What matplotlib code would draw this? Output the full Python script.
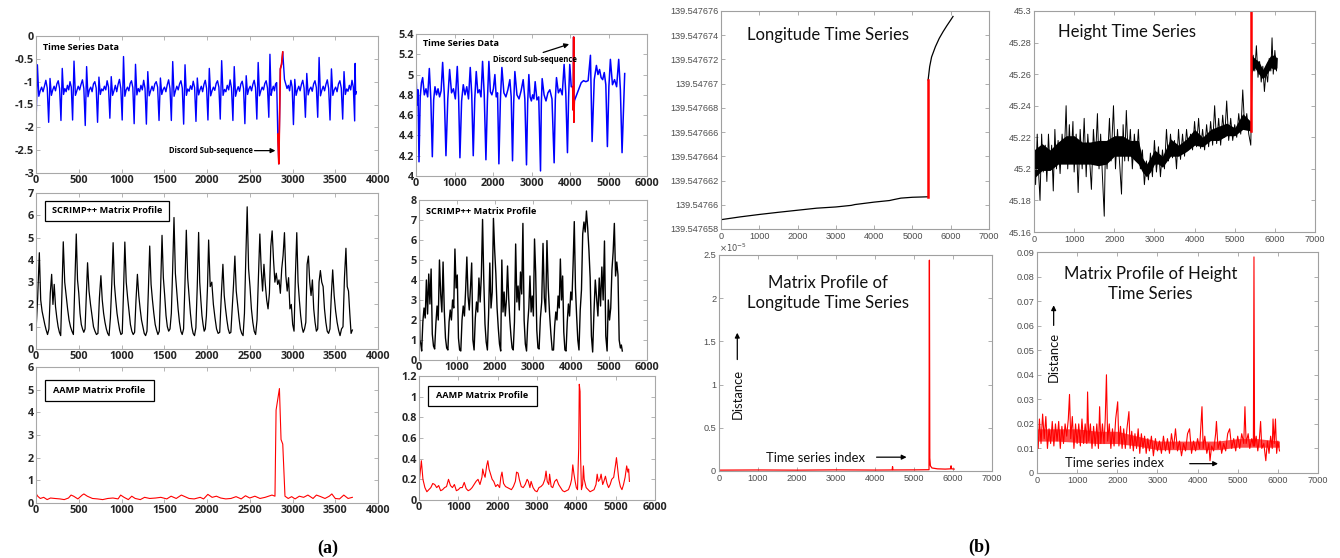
import numpy as np
import matplotlib
matplotlib.use("Agg")
import matplotlib.pyplot as plt
from matplotlib.patches import Rectangle
from matplotlib.ticker import FuncFormatter

plt.rcParams["axes.unicode_minus"] = False

# ----------------- data -----------------
# (a) top-left: ECG, spike points (x, y) + values between each spike and the next
ECG1_SPIKES = [(0, -1.97), (148, -1.89), (292, -1.85), (428, -1.84), (576, -1.96), (720, -1.89),
               (864, -1.80), (1008, -1.84), (1148, -1.92), (1291, -1.93), (1439, -1.85), (1583, -1.85),
               (1727, -1.93), (1871, -1.87), (2011, -1.84), (2155, -1.82), (2303, -1.85), (2443, -1.92),
               (2583, -1.82), (2723, -1.78),
               (2828, -2.15), (2840, -2.80), (2858, -0.72), (2886, -0.35), (2906, -0.95),
               (3011, -1.94), (3151, -1.78), (3295, -1.78), (3439, -1.84), (3587, -1.82), (3727, -1.86)]
ECG1_ROWS = [
    [-0.63, -1.32, -1.20, -1.12, -1.22, -1.10, -0.97, -1.14],
    [-0.93, -1.30, -1.18, -1.10, -1.20, -1.05, -0.98, -1.15],
    [-0.71, -1.28, -1.15, -1.22, -1.08, -1.18, -1.00, -1.12],
    [-0.55, -1.30, -1.20, -1.10, -1.18, -1.06, -0.96, -1.15],
    [-0.67, -1.33, -1.18, -1.12, -1.22, -1.05, -1.00, -1.14],
    [-0.90, -1.28, -1.16, -1.20, -1.10, -1.18, -0.98, -1.12],
    [-0.89, -1.30, -1.20, -1.08, -1.22, -1.06, -0.95, -1.15],
    [-0.45, -1.32, -1.18, -1.12, -1.20, -1.04, -0.98, -1.13],
    [-0.62, -1.29, -1.15, -1.22, -1.08, -1.18, -0.97, -1.15],
    [-0.78, -1.31, -1.20, -1.10, -1.20, -1.05, -1.00, -1.12],
    [-0.92, -1.28, -1.17, -1.12, -1.22, -1.07, -0.96, -1.15],
    [-0.56, -1.32, -1.20, -1.10, -1.18, -1.05, -0.98, -1.14],
    [-0.63, -1.30, -1.16, -1.21, -1.09, -1.17, -0.99, -1.13],
    [-0.92, -1.29, -1.18, -1.10, -1.22, -1.06, -0.97, -1.15],
    [-0.71, -1.31, -1.20, -1.12, -1.19, -1.04, -0.98, -1.12],
    [-0.54, -1.30, -1.17, -1.22, -1.08, -1.18, -0.96, -1.14],
    [-0.67, -1.32, -1.19, -1.11, -1.21, -1.05, -0.99, -1.15],
    [-0.87, -1.28, -1.16, -1.10, -1.20, -1.06, -0.97, -1.13],
    [-0.58, -1.31, -1.20, -1.12, -1.18, -1.04, -0.98, -1.14],
    [-0.40, -1.30, -1.18, -1.10, -1.20, -1.05, -1.02],
    [], [], [-0.62], [],
    [-1.05, -1.15, -1.08, -1.20, -0.97, -1.12],
    [-0.95, -1.30, -1.18, -1.10, -1.20, -1.06, -0.97, -1.14],
    [-0.82, -1.29, -1.17, -1.12, -1.21, -1.05, -0.98, -1.13],
    [-0.47, -1.31, -1.19, -1.10, -1.20, -1.06, -0.96, -1.15],
    [-0.72, -1.30, -1.18, -1.12, -1.22, -1.05, -0.98, -1.14],
    [-0.78, -1.28, -1.16, -1.21, -1.08, -1.18, -0.97, -1.12],
    [-0.60, -1.28, -1.22],
]
ECG1_END = 3750
ECG1_DISCORD = (2828, 2886)

# (a) top-right: ECG
ECG2_SPIKES = [(0, 5.03), (78, 4.14), (173, 4.97), (346, 5.06), (424, 4.19), (493, 4.88), (692, 5.12),
               (778, 4.20), (873, 5.05), (1072, 5.08), (1141, 4.18), (1228, 4.90), (1409, 5.07),
               (1487, 4.20), (1565, 5.03), (1729, 5.13), (1816, 4.16), (1893, 5.13), (2049, 5.00),
               (2153, 4.12), (2231, 5.07), (2438, 4.95), (2507, 4.15), (2568, 5.03), (2784, 4.95),
               (2870, 4.11), (2931, 5.00), (3095, 4.93), (3234, 4.05), (3277, 4.96), (3476, 4.85),
               (3588, 4.13), (3649, 4.97), (3847, 5.10), (3934, 4.23), (3994, 5.10),
               (4070, 4.88), (4085, 4.65), (4095, 5.37), (4100, 4.53), (4112, 4.74),
               (4531, 5.19), (4574, 4.34), (4686, 5.09), (4971, 4.29), (5049, 5.15), (5265, 5.15),
               (5352, 4.23), (5421, 5.01)]
ECG2_ROWS = [
    [4.70, 4.85], [4.78, 4.92], [4.80, 4.86, 4.78], [4.76], [4.75], [4.80, 4.86, 4.78, 4.84], [4.80],
    [4.76], [4.82, 4.86, 4.76], [4.78], [4.74], [4.80, 4.88, 4.76], [4.80],
    [4.76], [4.82, 4.85, 4.78], [4.80], [4.74], [4.83, 4.80, 4.86], [4.78, 4.82],
    [4.75], [4.82, 4.78, 4.85], [4.78], [4.72], [4.80, 4.76, 4.84], [4.76],
    [4.72], [4.78, 4.74, 4.80, 4.76], [4.75, 4.78], [4.72], [4.80, 4.74, 4.82], [4.76],
    [4.75], [4.82, 4.86, 4.80], [4.82], [4.78], [4.88],
    [], [], [], [], [4.80, 4.86, 4.92, 4.94, 4.93, 4.94],
    [], [4.95], [5.00, 5.05, 4.97, 4.95, 5.02, 4.90], [4.88], [4.90, 4.95, 4.88], [4.85],
    [], [],
]
ECG2_END = 5421
ECG2_DISCORD = (4070, 4112)

# (a) middle-left: SCRIMP++ profile, peaks + decay values to the next peak
MP1_PEAKS = [(0, 0.80), (39, 4.32), (183, 3.35), (319, 4.81), (471, 5.16), (603, 3.87), (759, 3.29),
             (902, 4.77), (1039, 4.80), (1186, 3.35), (1330, 4.62), (1474, 5.10), (1614, 5.90),
             (1758, 5.33), (1902, 5.23), (2019, 4.89), (2186, 3.80), (2326, 4.17), (2470, 6.38),
             (2618, 5.16), (2762, 5.30), (2906, 5.22), (3050, 5.22), (3186, 4.17), (3326, 3.52),
             (3470, 3.55), (3625, 4.52), (3700, 0.85)]
MP1_ROWS = [
    [2.3],
    [2.2, 1.7, 1.4, 1.1, 0.85, 0.65, 0.9, 2.5],
    [2.0, 2.9, 1.9, 1.4, 1.0, 0.75, 0.6, 2.6],
    [3.0, 2.4, 1.8, 1.3, 1.0, 0.8, 0.65, 2.9],
    [3.1, 2.5, 1.6, 1.1, 0.9, 0.75, 0.9, 2.4],
    [2.6, 2.0, 1.5, 1.0, 0.8, 0.65, 0.7, 2.3],
    [2.2, 1.6, 1.2, 0.9, 0.7, 0.6, 1.4, 2.9],
    [2.9, 2.2, 1.6, 1.2, 0.85, 0.65, 0.7, 2.6],
    [3.0, 2.3, 1.7, 1.1, 0.8, 0.65, 0.75, 2.2],
    [2.4, 1.8, 1.3, 1.0, 0.7, 0.6, 0.8, 2.6],
    [2.9, 2.2, 1.6, 1.1, 0.85, 0.65, 0.8, 2.8],
    [3.2, 2.4, 1.5, 1.0, 0.8, 0.9, 1.6, 3.6],
    [3.4, 2.6, 1.8, 1.2, 0.8, 0.65, 0.9, 2.9],
    [3.2, 2.4, 1.6, 1.0, 0.7, 0.6, 0.95, 2.8],
    [3.0, 2.2, 1.5, 1.1, 0.8, 0.9, 1.5, 2.8],
    [2.8, 3.0, 2.0, 1.4, 0.9, 0.7, 0.75, 2.4],
    [2.4, 1.8, 1.3, 0.9, 0.7, 0.75, 1.8, 2.9],
    [2.6, 2.0, 1.4, 0.9, 0.7, 0.6, 1.6, 4.1],
    [3.6, 2.8, 1.8, 1.2, 0.8, 0.65, 1.3, 3.3],
    [3.6, 2.6, 3.8, 2.9, 2.2, 1.8, 2.5, 4.6],
    [4.0, 3.0, 3.4, 2.9, 3.1, 2.5, 3.6, 4.2],
    [3.3, 2.6, 3.2, 1.8, 2.0, 1.1, 0.8, 3.3],
    [3.0, 2.2, 1.5, 1.0, 0.75, 0.9, 1.2, 3.8],
    [3.0, 2.4, 3.1, 1.8, 1.2, 0.8, 0.9, 3.0],
    [3.0, 2.8, 1.8, 1.2, 0.8, 0.7, 0.9, 2.4],
    [2.4, 1.7, 1.2, 0.85, 0.6, 0.9, 1.0, 3.2],
    [2.8, 2.6, 1.6, 0.7],
    [],
]
MP1_END = 3700

# (a) middle-right: SCRIMP++ profile, minima + values up to the next minimum
MP2_MINS = [(0, 4.45), (70, 0.45), (412, 0.55), (760, 0.50), (1100, 0.45), (1450, 0.50), (1800, 0.50),
            (2150, 0.45), (2480, 0.50), (2830, 0.45), (3160, 0.55), (3540, 0.50), (3870, 0.45),
            (4210, 0.50), (4570, 0.40), (4950, 0.45), (5300, 0.60), (5350, 0.45)]
MP2_ROWS = [
    [1.0, 0.8],
    [1.9, 2.6, 2.1, 4.0, 2.3, 4.3, 2.8, 4.55, 1.3, 0.7],
    [1.8, 2.7, 2.0, 5.0, 3.3, 2.4, 4.9, 2.5, 1.1, 0.6],
    [1.9, 2.5, 2.0, 3.0, 2.6, 5.55, 3.6, 4.25, 1.1, 0.5],
    [2.0, 2.7, 2.2, 3.5, 5.15, 3.2, 2.5, 3.6, 4.85, 1.0],
    [2.1, 2.9, 2.4, 4.1, 2.9, 4.2, 7.03, 4.0, 1.8, 0.9],
    [2.3, 4.85, 2.6, 3.4, 7.08, 5.5, 4.3, 2.6, 1.6, 0.8],
    [5.0, 2.4, 3.4, 2.2, 3.0, 4.7, 3.1, 2.0, 1.2, 0.6],
    [1.9, 5.8, 2.9, 3.7, 2.5, 4.4, 3.3, 6.83, 2.0, 0.8],
    [1.8, 2.6, 4.2, 2.4, 3.2, 2.2, 6.05, 4.4, 1.5, 0.6],
    [2.1, 2.9, 5.83, 3.1, 2.4, 5.97, 3.6, 2.3, 1.3, 0.5],
    [1.7, 2.4, 2.0, 3.2, 2.6, 5.05, 3.0, 4.2, 1.4, 0.5],
    [1.9, 2.8, 2.2, 3.4, 3.0, 4.8, 6.92, 3.6, 2.2, 1.0],
    [2.5, 3.5, 6.3, 6.9, 6.4, 7.45, 6.6, 5.5, 4.1, 1.2],
    [2.4, 4.0, 3.1, 2.2, 4.1, 2.7, 4.65, 3.0, 5.95, 1.2],
    [3.0, 2.0, 2.6, 4.5, 5.4, 6.83, 4.2, 4.9, 4.25, 1.0],
    [0.75],
    [],
]
MP2_END = 5350

# (a) bottom: AAMP profiles
AAMP1 = [(0, 0.42), (20, 0.3), (50, 0.2), (90, 0.25), (130, 0.15), (170, 0.22), (220, 0.2), (280, 0.18),
         (330, 0.15), (380, 0.22), (410, 0.35), (440, 0.3), (490, 0.18), (540, 0.35), (560, 0.4), (600, 0.3),
         (660, 0.2), (720, 0.18), (780, 0.15), (840, 0.2), (900, 0.22), (960, 0.18), (990, 0.35), (1030, 0.25),
         (1080, 0.15), (1120, 0.3), (1160, 0.2), (1220, 0.15), (1270, 0.25), (1330, 0.2), (1400, 0.22),
         (1460, 0.25), (1530, 0.18), (1580, 0.3), (1640, 0.2), (1700, 0.35), (1730, 0.3), (1790, 0.2),
         (1850, 0.18), (1920, 0.25), (1960, 0.18), (2010, 0.38), (2060, 0.25), (2110, 0.3), (2160, 0.22),
         (2220, 0.18), (2280, 0.2), (2340, 0.28), (2400, 0.18), (2450, 0.32), (2500, 0.22), (2560, 0.3),
         (2620, 0.2), (2680, 0.25), (2720, 0.3), (2760, 0.35), (2795, 0.3), (2808, 4.1), (2847, 5.05),
         (2866, 2.8), (2886, 2.6), (2912, 0.3), (2950, 0.2), (2990, 0.28), (3030, 0.18), (3080, 0.3),
         (3130, 0.25), (3180, 0.35), (3240, 0.2), (3280, 0.35), (3330, 0.28), (3380, 0.2), (3430, 0.3),
         (3460, 0.4), (3500, 0.2), (3550, 0.18), (3600, 0.35), (3650, 0.2), (3700, 0.25)]
AAMP2 = [(0, 0.15), (30, 0.27), (60, 0.38), (100, 0.2), (150, 0.12), (200, 0.08), (250, 0.1), (300, 0.12),
         (350, 0.16), (400, 0.15), (450, 0.12), (500, 0.14), (550, 0.09), (600, 0.1), (650, 0.12), (700, 0.13),
         (750, 0.2), (800, 0.14), (850, 0.12), (900, 0.15), (950, 0.09), (1000, 0.1), (1050, 0.12), (1100, 0.12),
         (1150, 0.17), (1200, 0.11), (1250, 0.09), (1300, 0.1), (1350, 0.12), (1400, 0.15), (1450, 0.18),
         (1500, 0.2), (1550, 0.15), (1600, 0.22), (1620, 0.3), (1650, 0.25), (1680, 0.22), (1720, 0.33),
         (1750, 0.38), (1780, 0.3), (1820, 0.25), (1860, 0.2), (1900, 0.18), (1950, 0.13), (2000, 0.15),
         (2050, 0.12), (2080, 0.22), (2110, 0.27), (2150, 0.16), (2200, 0.13), (2250, 0.12), (2300, 0.11),
         (2350, 0.1), (2400, 0.13), (2450, 0.18), (2480, 0.27), (2520, 0.26), (2550, 0.2), (2600, 0.13),
         (2650, 0.12), (2700, 0.15), (2750, 0.2), (2780, 0.18), (2820, 0.12), (2850, 0.18), (2900, 0.12),
         (2950, 0.09), (3000, 0.08), (3050, 0.12), (3100, 0.13), (3150, 0.15), (3200, 0.2), (3230, 0.28),
         (3260, 0.18), (3300, 0.15), (3320, 0.25), (3360, 0.13), (3400, 0.12), (3450, 0.18), (3500, 0.2),
         (3550, 0.15), (3600, 0.12), (3650, 0.09), (3700, 0.08), (3750, 0.09), (3800, 0.1), (3850, 0.15),
         (3880, 0.2), (3910, 0.34), (3940, 0.25), (3970, 0.18), (4000, 0.12), (4030, 0.1), (4060, 0.5),
         (4075, 1.12), (4095, 1.05), (4110, 0.4), (4130, 0.1), (4160, 0.15), (4180, 0.33), (4200, 0.2),
         (4250, 0.12), (4300, 0.1), (4350, 0.08), (4400, 0.09), (4450, 0.1), (4500, 0.15), (4530, 0.25),
         (4560, 0.18), (4600, 0.2), (4630, 0.25), (4670, 0.15), (4700, 0.18), (4740, 0.23), (4780, 0.16),
         (4820, 0.12), (4860, 0.15), (4900, 0.2), (4950, 0.22), (5000, 0.35), (5020, 0.41), (5050, 0.3),
         (5080, 0.2), (5120, 0.13), (5160, 0.1), (5200, 0.15), (5240, 0.22), (5280, 0.33), (5310, 0.27),
         (5330, 0.3), (5350, 0.18)]

# (b) longitude series
LON = [(0, 139.54765877), (500, 139.5476590), (1000, 139.5476592), (1500, 139.54765938),
       (2000, 139.54765955), (2500, 139.54765972), (3000, 139.54765982), (3400, 139.54765995),
       (3500, 139.54766002), (4000, 139.54766022), (4400, 139.54766035), (4500, 139.54766042),
       (4700, 139.54766055), (5000, 139.54766062), (5410, 139.54766066)]
LON_JUMP = [(5410, 139.54766066), (5410, 139.5476703)]
LON_AFTER = [(5410, 139.5476703), (5450, 139.5476714), (5500, 139.5476722), (5600, 139.54767305),
             (5700, 139.54767374), (5800, 139.54767429), (5900, 139.54767479), (6000, 139.54767526),
             (6060, 139.54767555)]
LON_TICKS = [139.547658, 139.54766, 139.547662, 139.547664, 139.547666, 139.547668,
             139.54767, 139.547672, 139.547674, 139.547676]

# (b) height series: dense core (x, low, high) and the spiky trace
HEIGHT_BAND = [(0, 45.194, 45.212), (200, 45.199, 45.216), (400, 45.199, 45.212), (600, 45.203, 45.217),
               (800, 45.203, 45.221), (1000, 45.203, 45.221), (1200, 45.203, 45.217), (1400, 45.203, 45.217),
               (1600, 45.202, 45.218), (1800, 45.203, 45.218), (2000, 45.208, 45.221), (2200, 45.208, 45.221),
               (2400, 45.208, 45.218), (2600, 45.203, 45.218), (2700, 45.198, 45.207), (2800, 45.195, 45.203),
               (2900, 45.198, 45.207), (3000, 45.203, 45.212), (3100, 45.203, 45.21), (3200, 45.201, 45.208),
               (3400, 45.208, 45.219), (3600, 45.208, 45.215), (3800, 45.211, 45.219), (4000, 45.215, 45.225),
               (4200, 45.214, 45.22), (4400, 45.218, 45.225), (4600, 45.218, 45.227), (4800, 45.221, 45.229),
               (5000, 45.221, 45.226), (5200, 45.225, 45.235), (5400, 45.224, 45.23)]
HEIGHT_BAND2 = [(5420, 45.261, 45.272), (5500, 45.264, 45.27), (5600, 45.26, 45.268), (5700, 45.257, 45.263),
                (5800, 45.26, 45.268), (5900, 45.264, 45.272), (6000, 45.263, 45.272), (6050, 45.264, 45.27)]
HEIGHT = [(0, 45.205), (40, 45.19), (80, 45.222), (120, 45.195), (150, 45.18), (190, 45.222), (230, 45.198),
          (280, 45.215), (320, 45.192), (360, 45.222), (400, 45.2), (440, 45.215), (480, 45.186), (520, 45.225),
          (560, 45.2), (600, 45.218), (650, 45.197), (700, 45.222), (750, 45.205), (800, 45.24), (840, 45.2),
          (880, 45.228), (920, 45.205), (970, 45.23), (1000, 45.198), (1050, 45.222), (1100, 45.185),
          (1150, 45.225), (1200, 45.2), (1250, 45.232), (1300, 45.195), (1340, 45.222), (1400, 45.2),
          (1430, 45.187), (1480, 45.225), (1530, 45.205), (1580, 45.235), (1620, 45.2), (1660, 45.222),
          (1700, 45.198), (1750, 45.17), (1780, 45.215), (1820, 45.2), (1880, 45.232), (1920, 45.205),
          (1980, 45.24), (2030, 45.2), (2080, 45.225), (2130, 45.205), (2180, 45.184), (2220, 45.228),
          (2260, 45.205), (2300, 45.237), (2350, 45.205), (2400, 45.225), (2450, 45.2), (2500, 45.222),
          (2550, 45.205), (2600, 45.225), (2650, 45.2), (2700, 45.212), (2750, 45.19), (2800, 45.205),
          (2850, 45.193), (2900, 45.21), (2950, 45.195), (3000, 45.218), (3050, 45.198), (3100, 45.214),
          (3150, 45.195), (3200, 45.212), (3250, 45.2), (3300, 45.225), (3350, 45.205), (3400, 45.222),
          (3450, 45.207), (3500, 45.218), (3550, 45.2), (3600, 45.225), (3650, 45.206), (3700, 45.222),
          (3750, 45.208), (3800, 45.225), (3850, 45.212), (3900, 45.222), (3950, 45.212), (4000, 45.23),
          (4050, 45.214), (4100, 45.232), (4150, 45.213), (4200, 45.225), (4250, 45.212), (4300, 45.228),
          (4350, 45.214), (4400, 45.23), (4450, 45.215), (4500, 45.24), (4550, 45.216), (4600, 45.232),
          (4650, 45.215), (4700, 45.234), (4750, 45.22), (4800, 45.243), (4850, 45.218), (4900, 45.232),
          (4950, 45.218), (5000, 45.228), (5050, 45.22), (5100, 45.235), (5150, 45.222), (5200, 45.25),
          (5250, 45.225), (5300, 45.235), (5350, 45.222), (5400, 45.215), (5430, 45.258), (5460, 45.272),
          (5500, 45.262), (5540, 45.278), (5580, 45.258), (5620, 45.268), (5660, 45.255), (5700, 45.265),
          (5740, 45.249), (5780, 45.262), (5820, 45.255), (5860, 45.27), (5900, 45.262), (5930, 45.283),
          (5960, 45.26), (6000, 45.275), (6040, 45.262), (6060, 45.27)]
HEIGHT_JUMP = [(5415, 45.224), (5415, 45.2995)]

# (b) matrix profiles
MP_LON = [(0, 1.0e-7), (1000, 1.2e-7), (2000, 1.0e-7), (3000, 1.3e-7), (4000, 1.1e-7), (4440, 1.2e-7),
          (4450, 5.0e-7), (4460, 1.2e-7), (5000, 1.3e-7), (5385, 1.5e-7), (5395, 2.44e-5), (5405, 1.5e-6),
          (5420, 6.0e-7), (5460, 3.5e-7), (5600, 2.5e-7), (5800, 2.2e-7), (5940, 2.5e-7), (5950, 6.0e-7),
          (5965, 2.5e-7), (6030, 2.2e-7)]
MP_HEIGHT_BAND = [(0, 0.013, 0.018), (500, 0.013, 0.018), (1000, 0.0125, 0.018), (1500, 0.012, 0.017),
                  (2000, 0.012, 0.017), (2500, 0.011, 0.015), (3000, 0.0095, 0.013), (3500, 0.0095, 0.013),
                  (4000, 0.0095, 0.013), (4500, 0.0095, 0.013), (5000, 0.0105, 0.014), (5500, 0.0105, 0.014),
                  (6040, 0.0105, 0.013)]
MP_HEIGHT = [(0, 0.018), (30, 0.01), (60, 0.022), (100, 0.012), (140, 0.024), (180, 0.014), (220, 0.023),
             (260, 0.01), (300, 0.018), (340, 0.012), (380, 0.021), (420, 0.011), (460, 0.02), (500, 0.013),
             (540, 0.021), (580, 0.01), (620, 0.019), (660, 0.012), (700, 0.02), (740, 0.015), (780, 0.022),
             (810, 0.032), (840, 0.014), (880, 0.023), (920, 0.01), (960, 0.02), (1000, 0.012), (1040, 0.02),
             (1080, 0.011), (1120, 0.022), (1160, 0.012), (1200, 0.02), (1240, 0.012), (1260, 0.033),
             (1290, 0.013), (1330, 0.02), (1370, 0.01), (1410, 0.019), (1450, 0.011), (1490, 0.02),
             (1530, 0.01), (1560, 0.027), (1590, 0.012), (1630, 0.02), (1670, 0.012), (1700, 0.022),
             (1730, 0.04), (1760, 0.013), (1800, 0.02), (1840, 0.01), (1880, 0.018), (1920, 0.011),
             (1960, 0.022), (2010, 0.029), (2040, 0.011), (2080, 0.019), (2120, 0.01), (2160, 0.018),
             (2200, 0.01), (2240, 0.018), (2290, 0.025), (2320, 0.01), (2360, 0.017), (2400, 0.009),
             (2440, 0.016), (2480, 0.01), (2520, 0.018), (2560, 0.008), (2600, 0.016), (2640, 0.01),
             (2680, 0.015), (2720, 0.008), (2760, 0.014), (2800, 0.009), (2850, 0.015), (2900, 0.007),
             (2950, 0.014), (3000, 0.009), (3050, 0.013), (3100, 0.008), (3150, 0.015), (3200, 0.009),
             (3250, 0.014), (3300, 0.008), (3350, 0.016), (3400, 0.01), (3450, 0.018), (3500, 0.009),
             (3550, 0.013), (3600, 0.007), (3650, 0.012), (3700, 0.009), (3750, 0.016), (3800, 0.018),
             (3850, 0.008), (3900, 0.013), (3950, 0.009), (4000, 0.014), (4050, 0.01), (4110, 0.027),
             (4140, 0.01), (4180, 0.015), (4230, 0.008), (4280, 0.012), (4310, 0.005), (4350, 0.011),
             (4400, 0.009), (4450, 0.016), (4470, 0.021), (4510, 0.01), (4560, 0.013), (4600, 0.008),
             (4650, 0.012), (4700, 0.009), (4750, 0.016), (4800, 0.018), (4850, 0.01), (4900, 0.014),
             (4950, 0.009), (5000, 0.015), (5050, 0.01), (5100, 0.016), (5150, 0.012), (5180, 0.027),
             (5210, 0.012), (5260, 0.016), (5300, 0.01), (5350, 0.014), (5390, 0.011), (5405, 0.088),
             (5420, 0.011), (5460, 0.015), (5500, 0.009), (5540, 0.014), (5570, 0.021), (5600, 0.01),
             (5650, 0.012), (5700, 0.005), (5740, 0.013), (5780, 0.008), (5820, 0.015), (5860, 0.01),
             (5880, 0.022), (5910, 0.012), (5940, 0.022), (5970, 0.008), (6000, 0.013), (6040, 0.009)]


# ----------------- helpers -----------------
def spiky(points, rows, x_end):
    # key points as read, the values in between spread over the gap to the next one
    xs, ys = [], []
    for i, (x0, y0) in enumerate(points):
        xs.append(x0)
        ys.append(y0)
        x1 = points[i + 1][0] if i + 1 < len(points) else x_end
        if rows[i]:
            xs.extend(np.linspace(x0, x1, len(rows[i]) + 2)[1:-1])
            ys.extend(rows[i])
    return np.array(xs), np.array(ys)


def xy(pairs):
    a = np.array(pairs, dtype=float)
    return a[:, 0], a[:, 1]


W, H = 1340, 558
fig = plt.figure(figsize=(W / 100, H / 100), dpi=100)


def axes_px(l, t, r, b):
    return fig.add_axes([l / W, 1 - b / H, (r - l) / W, (b - t) / H])


fmt_g = FuncFormatter(lambda v, p: "%g" % v)


def style_a(ax, xmax, xstep, yticks):
    ax.set_xlim(0, xmax)
    ax.set_xticks(np.arange(0, xmax + 1, xstep))
    ax.set_ylim(yticks[0], yticks[-1])
    ax.set_yticks(yticks)
    ax.xaxis.set_major_formatter(fmt_g)
    ax.yaxis.set_major_formatter(fmt_g)
    for s in ax.spines.values():
        s.set_color("#a8a8a8")
        s.set_linewidth(0.8)
    ax.tick_params(direction="in", length=3, width=0.6, color="#a8a8a8", top=True, right=True,
                   labelsize=7.8, labelcolor="#262626", pad=1.5)
    plt.setp(ax.get_xticklabels() + ax.get_yticklabels(), fontweight="bold", family="Open Sans")


def style_b(ax, yticks, labels=None):
    ax.set_xlim(0, 7000)
    ax.set_xticks(np.arange(0, 7001, 1000))
    ax.set_ylim(yticks[0], yticks[-1])
    ax.set_yticks(yticks)
    if labels is not None:
        ax.set_yticklabels(labels)
    else:
        ax.yaxis.set_major_formatter(fmt_g)
    for s in ax.spines.values():
        s.set_color("#a0a0a0")
        s.set_linewidth(0.8)
    ax.tick_params(direction="in", length=3, width=0.6, color="#a0a0a0", top=True, right=True,
                   labelsize=6.6, labelcolor="#4d4d4d", pad=2)
    plt.setp(ax.get_xticklabels() + ax.get_yticklabels(), family="Liberation Sans")


def box_label(ax, x0, x1, y0, y1, text):
    ax.add_patch(Rectangle((x0, y0), x1 - x0, y1 - y0, facecolor="white", edgecolor="black",
                           linewidth=0.9, zorder=4))
    ax.text((x0 + x1) / 2, (y0 + y1) / 2, text, ha="center", va="center", fontsize=6.6,
            fontweight="bold", family="Open Sans", zorder=5)


def arrow(ax, x0, y0, x1, y1):
    ax.annotate("", xy=(x1, y1), xytext=(x0, y0),
                arrowprops=dict(arrowstyle="-|>", color="black", lw=0.9, mutation_scale=7,
                                shrinkA=0, shrinkB=0))


TXT_A = dict(fontweight="bold", family="Open Sans", color="black")
TXT_B = dict(family="Lato", color="#111111")

# ----------------- panel (a) -----------------
ax = axes_px(36, 36, 378, 173)
x, y = spiky(ECG1_SPIKES, ECG1_ROWS, ECG1_END)
ax.plot(x, y, color="#0000ff", lw=1.0)
m = (x >= ECG1_DISCORD[0]) & (x <= ECG1_DISCORD[1])
ax.plot(x[m], y[m], color="#ff0000", lw=1.2)
style_a(ax, 4000, 500, [-3, -2.5, -2, -1.5, -1, -0.5, 0])
ax.text(86, -0.255, "Time Series Data", fontsize=6.6, va="center", **TXT_A)
ax.text(2540, -2.51, "Discord Sub-sequence", fontsize=5.5, ha="right", va="center", **TXT_A)
arrow(ax, 2556, -2.51, 2800, -2.51)

ax = axes_px(416, 34, 647, 176)
x, y = spiky(ECG2_SPIKES, ECG2_ROWS, ECG2_END)
ax.plot(x, y, color="#0000ff", lw=1.1)
m = (x >= ECG2_DISCORD[0]) & (x <= ECG2_DISCORD[1])
ax.plot(x[m], y[m], color="#ff0000", lw=1.2)
style_a(ax, 6000, 1000, [4, 4.2, 4.4, 4.6, 4.8, 5, 5.2, 5.4])
ax.text(173, 5.308, "Time Series Data", fontsize=6.6, va="center", **TXT_A)
ax.text(1989, 5.152, "Discord Sub-sequence", fontsize=5.5, ha="left", va="center", **TXT_A)
arrow(ax, 3303, 5.218, 3977, 5.30)

ax = axes_px(36, 193, 378, 349)
x, y = spiky(MP1_PEAKS, MP1_ROWS, MP1_END)
ax.plot(x, y, color="black", lw=0.9)
style_a(ax, 4000, 500, [0, 1, 2, 3, 4, 5, 6, 7])
box_label(ax, 105, 1552, 5.75, 6.65, "SCRIMP++ Matrix Profile")

ax = axes_px(419, 200, 647, 360)
x, y = spiky(MP2_MINS, MP2_ROWS, MP2_END)
ax.plot(x, y, color="black", lw=1.0)
style_a(ax, 6000, 1000, [0, 1, 2, 3, 4, 5, 6, 7, 8])
ax.text(193, 7.45, "SCRIMP++ Matrix Profile", fontsize=6.6, va="center", **TXT_A)

ax = axes_px(36, 367, 378, 503)
x, y = xy(AAMP1)
ax.plot(x, y, color="#ff0000", lw=0.8)
style_a(ax, 4000, 500, [0, 1, 2, 3, 4, 5, 6])
box_label(ax, 105, 1377, 4.51, 5.41, "AAMP Matrix Profile")

ax = axes_px(419, 376, 655, 500)
x, y = xy(AAMP2)
ax.plot(x, y, color="#ff0000", lw=0.8)
style_a(ax, 6000, 1000, [0, 0.2, 0.4, 0.6, 0.8, 1, 1.2])
box_label(ax, 229, 3005, 0.913, 1.106, "AAMP Matrix Profile")

fig.text(328 / W, 1 - 548 / H, "(a)", fontsize=13, fontweight="bold", family="Liberation Serif",
         ha="center", va="center")

# ----------------- panel (b) -----------------
ax = axes_px(721, 11, 989, 229)
x, y = xy(LON)
ax.plot(x, y, color="black", lw=0.9)
x, y = xy(LON_AFTER)
ax.plot(x, y, color="black", lw=0.9)
x, y = xy(LON_JUMP)
ax.plot(x, y, color="#ff0000", lw=1.8)
style_b(ax, LON_TICKS, ["%.10g" % t for t in LON_TICKS])
ax.text(2800, 139.547674, "Longitude Time Series", fontsize=12, ha="center", va="center", **TXT_B)

ax = axes_px(1034, 11, 1315, 232)
bx, blo, bhi = np.array(HEIGHT_BAND).T
ax.fill_between(bx, blo, bhi, color="black", lw=0)
bx, blo, bhi = np.array(HEIGHT_BAND2).T
ax.fill_between(bx, blo, bhi, color="black", lw=0)
x, y = xy(HEIGHT)
ax.plot(x, y, color="black", lw=0.7)
x, y = xy(HEIGHT_JUMP)
ax.plot(x, y, color="#ff0000", lw=1.8)
style_b(ax, [45.16, 45.18, 45.2, 45.22, 45.24, 45.26, 45.28, 45.3])
ax.text(2311, 45.287, "Height Time Series", fontsize=12, ha="center", va="center", **TXT_B)

ax = axes_px(719, 255, 992, 471)
x, y = xy(MP_LON)
ax.plot(x, y, color="#ff0000", lw=0.9)
style_b(ax, [0, 0.5e-5, 1e-5, 1.5e-5, 2e-5, 2.5e-5], ["0", "0.5", "1", "1.5", "2", "2.5"])
ax.text(0.0, 1.005, r"$\times10^{-5}$", transform=ax.transAxes, fontsize=6, color="#4d4d4d",
        ha="left", va="bottom")
ax.text(2784, 2.06e-5, "Matrix Profile of\nLongitude Time Series", fontsize=12, ha="center",
        va="center", linespacing=1.3, **TXT_B)
ax.text(469, 0.89e-5, "Distance", fontsize=9.4, rotation=90, ha="center", va="center", **TXT_B)
arrow(ax, 469, 1.29e-5, 469, 1.6e-5)
ax.text(2485, 0.147e-5, "Time series index", fontsize=9.4, ha="center", va="center", **TXT_B)
arrow(ax, 4040, 0.16e-5, 4810, 0.16e-5)

ax = axes_px(1037, 252, 1318, 473)
bx, blo, bhi = np.array(MP_HEIGHT_BAND).T
ax.fill_between(bx, blo, bhi, color="#ff0000", alpha=0.7, lw=0)
x, y = xy(MP_HEIGHT)
ax.plot(x, y, color="#ff0000", lw=0.8)
style_b(ax, [0, 0.01, 0.02, 0.03, 0.04, 0.05, 0.06, 0.07, 0.08, 0.09])
ax.text(2824, 0.0768, "Matrix Profile of Height\nTime Series", fontsize=12, ha="center",
        va="center", linespacing=1.3, **TXT_B)
ax.text(415, 0.0472, "Distance", fontsize=9.4, rotation=90, ha="center", va="center", **TXT_B)
arrow(ax, 415, 0.0601, 415, 0.0683)
ax.text(1919, 0.0042, "Time series index", fontsize=9.4, ha="center", va="center", **TXT_B)
arrow(ax, 3804, 0.0038, 4510, 0.0038)

fig.text(979 / W, 1 - 547 / H, "(b)", fontsize=13, fontweight="bold", family="Liberation Serif",
         ha="center", va="center")

fig.savefig("out.png", dpi=100)
